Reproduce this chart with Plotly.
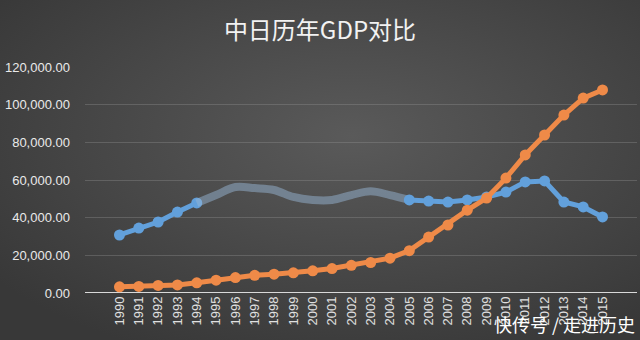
import base64
import plotly.graph_objects as go

years = [str(y) for y in range(1990, 2016)]
japan = [30800, 34500, 37700, 43000, 47800, 52000, 56300, 55700, 54700, 51000,
         49400, 49400, 52000, 54000, 52000, 49400, 48800, 48300, 49400, 51000,
         53600, 59000, 59500, 48300, 45700, 40400]
china = [3300, 3500, 4000, 4300, 5400, 6800, 8200, 9400, 10000, 10700,
         11800, 13000, 14700, 16200, 18500, 22500, 29700, 36100, 44000, 50400,
         61000, 73300, 83900, 94500, 103500, 107800]
yticks = [0, 20000, 40000, 60000, 80000, 100000, 120000]
ytick_text = ["0.00", "20,000.00", "40,000.00", "60,000.00", "80,000.00", "100,000.00", "120,000.00"]

W, H = 640, 340
ml, mr, mt, mb = 85, 3, 67, 47
pw, ph = W - ml - mr, H - mt - mb

svg = f'''<svg xmlns="http://www.w3.org/2000/svg" width="{W}" height="{H}" viewBox="0 0 {W} {H}">
<defs><radialGradient id="g" cx="55%" cy="40%" r="70%">
<stop offset="0%" stop-color="#5a5a5a"/><stop offset="100%" stop-color="#383838"/>
</radialGradient></defs><rect width="{W}" height="{H}" fill="url(#g)"/></svg>'''
bg = "data:image/svg+xml;base64," + base64.b64encode(svg.encode()).decode()

BLUE = "#62a0db"
ORANGE = "#ef8a48"
fade_a, fade_b = 4, 15  # faded section indices (1994..2005)

fig = go.Figure()
fig.add_trace(go.Scatter(x=years[:fade_a + 1], y=japan[:fade_a + 1], mode="lines+markers",
                         line=dict(color=BLUE, width=5), marker=dict(size=11, color=BLUE),
                         name="日本", showlegend=False))
fig.add_trace(go.Scatter(x=years[fade_a:fade_b + 1], y=japan[fade_a:fade_b + 1], mode="lines",
                         line=dict(color="rgba(150,180,210,0.5)", width=8, shape="spline"),
                         name="日本", showlegend=False))
fig.add_trace(go.Scatter(x=years[fade_b:], y=japan[fade_b:], mode="lines+markers",
                         line=dict(color=BLUE, width=5), marker=dict(size=11, color=BLUE),
                         name="日本", showlegend=False))
fig.add_trace(go.Scatter(x=years, y=china, mode="lines+markers",
                         line=dict(color=ORANGE, width=5), marker=dict(size=11, color=ORANGE),
                         name="中国", showlegend=False))

fig.update_layout(
    width=W, height=H,
    margin=dict(l=ml, r=mr, t=mt, b=mb),
    paper_bgcolor="#404040",
    plot_bgcolor="rgba(0,0,0,0)",
    font=dict(family="Noto Sans CJK SC, Noto Sans, sans-serif", color="#e0e0e0"),
    title=dict(text="中日历年GDP对比", x=0.5, xanchor="center", y=0.91, yanchor="middle",
               font=dict(size=24, color="#f2f2f2", family="Noto Sans CJK SC, sans-serif")),
    images=[dict(source=bg, xref="paper", yref="paper",
                 x=-ml / pw, y=1 + mt / ph, sizex=W / pw, sizey=H / ph,
                 xanchor="left", yanchor="top", sizing="stretch", layer="below")],
    xaxis=dict(type="category", tickangle=-90, showgrid=False, ticks="",
               tickfont=dict(size=13, color="#e0e0e0", family="Liberation Sans, Arial, sans-serif"),
               showline=False, zeroline=False, automargin=False),
    yaxis=dict(range=[0, 120000], tickvals=yticks, ticktext=ytick_text,
               showgrid=True, gridcolor="rgba(150,150,150,0.35)", gridwidth=1,
               zeroline=False, showline=False, ticks="", ticklabelstandoff=14,
               automargin=False,
               tickfont=dict(size=13, color="#eaeaea", family="Liberation Sans, Arial, sans-serif")),
    shapes=[dict(type="line", xref="paper", yref="y", x0=0, x1=1, y0=0, y1=0,
                 line=dict(color="#d9d9d9", width=2), layer="below")],
    annotations=[dict(text="快传号 / 走进历史", xref="paper", yref="paper",
                      x=1.0, y=-0.07, xanchor="right", yanchor="top", showarrow=False,
                      font=dict(size=18, color="#ffffff", family="Noto Sans CJK SC, sans-serif"))],
)

fig.write_html("out.html")
